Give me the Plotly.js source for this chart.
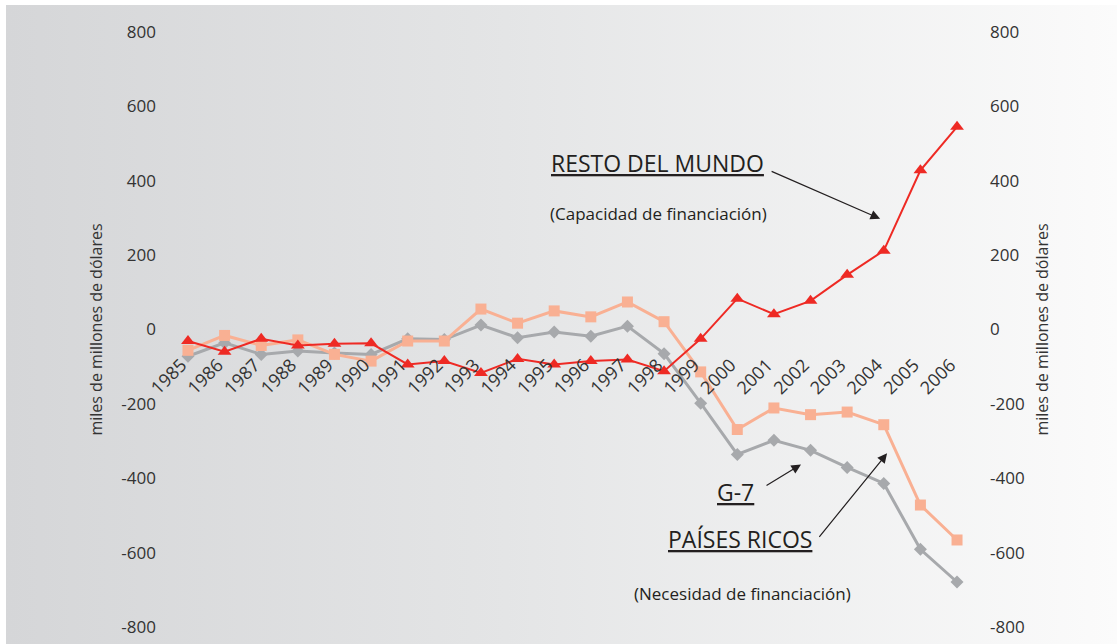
<!DOCTYPE html>
<html>
<head>
<meta charset="utf-8">
<script src="https://cdn.plot.ly/plotly-3.0.1.min.js"></script>
<style>
  html, body { margin: 0; padding: 0; background: #ffffff; }
  #bg { position: absolute; left: 6px; top: 5px; width: 1111px; height: 639px;
        background: linear-gradient(to right, #d5d6d8 0%, #e4e5e6 45%, #fbfbfb 100%); }
  #chart { position: absolute; left: 0; top: 0; width: 1117px; height: 644px; }
</style>
</head>
<body>
<div id="bg"></div>
<div id="chart"></div>
<script>
const years = [1985,1986,1987,1988,1989,1990,1991,1992,1993,1994,1995,1996,1997,1998,1999,2000,2001,2002,2003,2004,2005,2006];
const yearLabels = years.map(String);

// Resto del mundo (capacidad de financiación)
const restoMundo = [-31,-60,-25,-43,-38,-37,-94,-85,-117,-79,-94,-85,-81,-112,-25,83,41,77,147,212,428,545];
// Países ricos
const paisesRicos = [-56,-16,-43,-28,-67,-85,-31,-31,55,17,50,34,74,21,-114,-269,-211,-229,-222,-256,-472,-566];
// G-7
const g7 = [-72,-36,-67,-58,-63,-67,-25,-27,12,-22,-7,-18,9,-65,-198,-336,-298,-325,-371,-414,-591,-679];

const yTicks = [-800,-600,-400,-200,0,200,400,600,800];

const FONT = '"Open Sans", "Noto Sans", sans-serif';
const TXT = '#231f20';
const PAD = '\u00a0\u00a0';

const traces = [
  { x: years, y: g7, type: 'scatter', mode: 'lines+markers', name: 'G-7',
    line: { color: '#a7a9ac', width: 3 },
    marker: { symbol: 'diamond', size: 10, color: '#a7a9ac' } },
  { x: years, y: paisesRicos, type: 'scatter', mode: 'lines+markers', name: 'Países ricos',
    line: { color: '#f9b093', width: 3 },
    marker: { symbol: 'square', size: 11, color: '#f9b093' } },
  { x: years, y: restoMundo, type: 'scatter', mode: 'lines+markers', name: 'Resto del mundo',
    line: { color: '#ee2a24', width: 2 },
    marker: { symbol: 'triangle-up', size: 12, color: '#ee2a24' } },
  { x: years, y: restoMundo, yaxis: 'y2', type: 'scatter', mode: 'none', hoverinfo: 'skip', showlegend: false }
];

const layout = {
  width: 1117, height: 644,
  margin: { l: 166, r: 138, t: 32, b: 17, pad: 0 },
  paper_bgcolor: 'rgba(0,0,0,0)',
  plot_bgcolor: 'rgba(0,0,0,0)',
  showlegend: false,
  font: { family: FONT, color: TXT },
  xaxis: {
    range: [1984.4, 2006.6],
    tickvals: years, ticktext: yearLabels.map(s => s + PAD),
    tickangle: -45,
    anchor: 'free', position: 0.5,
    showgrid: false, zeroline: false, showline: false, ticks: '',
    ticklabelstandoff: 14,
    tickfont: { size: 18, color: '#333333', family: FONT }
  },
  yaxis: {
    range: [-800, 800], tickvals: yTicks, ticktext: yTicks.map(String),
    showgrid: false, zeroline: false, showline: false, ticks: '',
    ticklabelstandoff: 9,
    tickfont: { size: 17, color: '#333333', family: FONT },
    title: { text: 'miles de millones de dólares', font: { size: 16, color: '#333333', family: FONT }, standoff: 14 }
  },
  yaxis2: {
    range: [-800, 800], tickvals: yTicks, ticktext: yTicks.map(String),
    overlaying: 'y', side: 'right',
    showgrid: false, zeroline: false, showline: false, ticks: '',
    ticklabelstandoff: 10,
    tickfont: { size: 17, color: '#333333', family: FONT },
    title: { text: 'miles de millones de dólares', font: { size: 16, color: '#333333', family: FONT }, standoff: 13 }
  },
  annotations: [
    { x: 1997.81, y: 449, xref: 'x', yref: 'y', text: '<u>RESTO DEL MUNDO</u>', showarrow: false,
      font: { size: 23, color: TXT, family: FONT } },
    { x: 1997.86, y: 312, xref: 'x', yref: 'y', text: '(Capacidad de financiación)', showarrow: false,
      font: { size: 17, color: TXT, family: FONT } },
    { x: 1999.96, y: -436, xref: 'x', yref: 'y', text: '<u>G-7</u>', showarrow: false,
      font: { size: 23, color: TXT, family: FONT } },
    { x: 2000.07, y: -563, xref: 'x', yref: 'y', text: '<u>PAÍSES RICOS</u>', showarrow: false,
      font: { size: 23, color: TXT, family: FONT } },
    { x: 2000.13, y: -711, xref: 'x', yref: 'y', text: '(Necesidad de financiación)', showarrow: false,
      font: { size: 17, color: TXT, family: FONT } },
    { x: 2003.90, y: 298, xref: 'x', yref: 'y', text: '', showarrow: true, ax: -110, ay: -48,
      arrowhead: 2, arrowsize: 1.6, arrowwidth: 1.2, arrowcolor: TXT },
    { x: 2001.74, y: -363, xref: 'x', yref: 'y', text: '', showarrow: true, ax: -36, ay: 22,
      arrowhead: 2, arrowsize: 1.6, arrowwidth: 1.2, arrowcolor: TXT },
    { x: 2004.09, y: -333, xref: 'x', yref: 'y', text: '', showarrow: true, ax: -69, ay: 85,
      arrowhead: 2, arrowsize: 1.6, arrowwidth: 1.2, arrowcolor: TXT }
  ]
};

Plotly.newPlot('chart', traces, layout, { displayModeBar: false, staticPlot: true });
</script>
</body>
</html>
